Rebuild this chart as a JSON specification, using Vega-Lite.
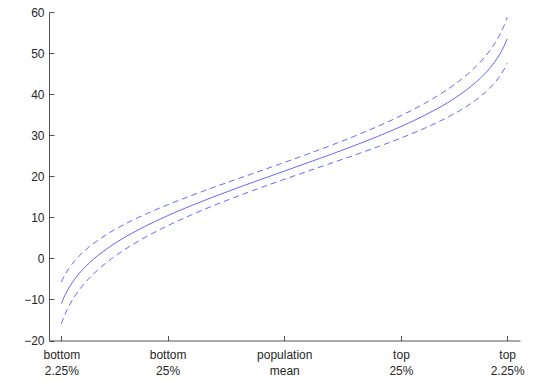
{
  "$schema": "https://vega.github.io/schema/vega-lite/v6.json",
  "autosize": {"type": "none"},
  "padding": {"left": 49, "top": 12, "right": 30, "bottom": 41.5},
  "width": 471,
  "height": 328.5,
  "background": "white",
  "config": {
    "view": {"stroke": null},
    "axis": {
      "grid": false,
      "title": null,
      "domainColor": "#262626",
      "domainWidth": 0.8,
      "tickColor": "#262626",
      "tickWidth": 0.8,
      "tickSize": -5,
      "labelColor": "#262626",
      "labelFont": "Liberation Sans",
      "labelFontSize": 12
    }
  },
  "data": {
    "values": [
      {"p": 2.25, "mid": -11.006, "up": -5.767, "lo": -15.957},
      {"p": 2.5, "mid": -10.286, "up": -5.145, "lo": -15.143},
      {"p": 3, "mid": -9.012, "up": -4.043, "lo": -13.703},
      {"p": 3.5, "mid": -7.903, "up": -3.083, "lo": -12.451},
      {"p": 4, "mid": -6.919, "up": -2.23, "lo": -11.341},
      {"p": 5, "mid": -5.216, "up": -0.753, "lo": -9.422},
      {"p": 6, "mid": -3.767, "up": 0.507, "lo": -7.791},
      {"p": 7, "mid": -2.496, "up": 1.615, "lo": -6.362},
      {"p": 8, "mid": -1.358, "up": 2.608, "lo": -5.086},
      {"p": 10, "mid": 0.629, "up": 4.347, "lo": -2.86},
      {"p": 12.5, "mid": 2.742, "up": 6.205, "lo": -0.501},
      {"p": 15, "mid": 4.574, "up": 7.825, "lo": 1.535},
      {"p": 17.5, "mid": 6.212, "up": 9.281, "lo": 3.349},
      {"p": 20, "mid": 7.709, "up": 10.619, "lo": 4.998},
      {"p": 25, "mid": 10.397, "up": 13.046, "lo": 7.937},
      {"p": 30, "mid": 12.812, "up": 15.259, "lo": 10.543},
      {"p": 35, "mid": 15.05, "up": 17.344, "lo": 12.921},
      {"p": 40, "mid": 17.174, "up": 19.36, "lo": 15.137},
      {"p": 45, "mid": 19.227, "up": 21.348, "lo": 17.233},
      {"p": 50, "mid": 21.25, "up": 23.35, "lo": 19.25},
      {"p": 55, "mid": 23.273, "up": 25.394, "lo": 21.217},
      {"p": 60, "mid": 25.326, "up": 27.512, "lo": 23.163},
      {"p": 65, "mid": 27.45, "up": 29.744, "lo": 25.129},
      {"p": 70, "mid": 29.688, "up": 32.135, "lo": 27.157},
      {"p": 75, "mid": 32.103, "up": 34.752, "lo": 29.305},
      {"p": 80, "mid": 34.791, "up": 37.701, "lo": 31.66},
      {"p": 82.5, "mid": 36.288, "up": 39.357, "lo": 32.957},
      {"p": 85, "mid": 37.926, "up": 41.177, "lo": 34.369},
      {"p": 87.5, "mid": 39.758, "up": 43.221, "lo": 35.939},
      {"p": 90, "mid": 41.871, "up": 45.589, "lo": 37.742},
      {"p": 92, "mid": 43.858, "up": 47.824, "lo": 39.428},
      {"p": 93, "mid": 44.996, "up": 49.107, "lo": 40.392},
      {"p": 94, "mid": 46.267, "up": 50.541, "lo": 41.465},
      {"p": 95, "mid": 47.716, "up": 52.179, "lo": 42.688},
      {"p": 96, "mid": 49.419, "up": 54.108, "lo": 44.121},
      {"p": 96.5, "mid": 50.403, "up": 55.223, "lo": 44.949},
      {"p": 97, "mid": 51.512, "up": 56.481, "lo": 45.881},
      {"p": 97.5, "mid": 52.786, "up": 57.927, "lo": 46.949},
      {"p": 97.75, "mid": 53.506, "up": 58.745, "lo": 47.553}
    ]
  },
  "encoding": {
    "x": {
      "field": "p",
      "type": "quantitative",
      "scale": {"domain": [-0.4, 100.5], "nice": false, "zero": false},
      "axis": {
        "values": [2.25, 25, 50, 75, 97.75],
        "labelExpr": "datum.value == 2.25 ? ['bottom', '2.25%'] : datum.value == 25 ? ['bottom', '25%'] : datum.value == 50 ? ['population', 'mean'] : datum.value == 75 ? ['top', '25%'] : ['top', '2.25%']",
        "labelPadding": 14,
        "labelLineHeight": 16,
        "labelBaseline": "top",
        "labelFlush": false,
        "labelOverlap": false
      }
    }
  },
  "layer": [
    {
      "mark": {"type": "line", "color": "#0000ff", "strokeWidth": 0.6, "interpolate": "monotone"},
      "encoding": {
        "y": {
          "field": "mid",
          "type": "quantitative",
          "scale": {"domain": [-20, 60], "nice": false, "zero": false},
          "axis": {"values": [-20, -10, 0, 10, 20, 30, 40, 50, 60], "labelPadding": 10, "labelFlush": false, "labelOverlap": false}
        }
      }
    },
    {
      "mark": {"type": "line", "color": "#0000ff", "strokeWidth": 0.6, "strokeDash": [6, 4], "interpolate": "monotone"},
      "encoding": {"y": {"field": "up", "type": "quantitative"}}
    },
    {
      "mark": {"type": "line", "color": "#0000ff", "strokeWidth": 0.6, "strokeDash": [6, 4], "interpolate": "monotone"},
      "encoding": {"y": {"field": "lo", "type": "quantitative"}}
    }
  ]
}
